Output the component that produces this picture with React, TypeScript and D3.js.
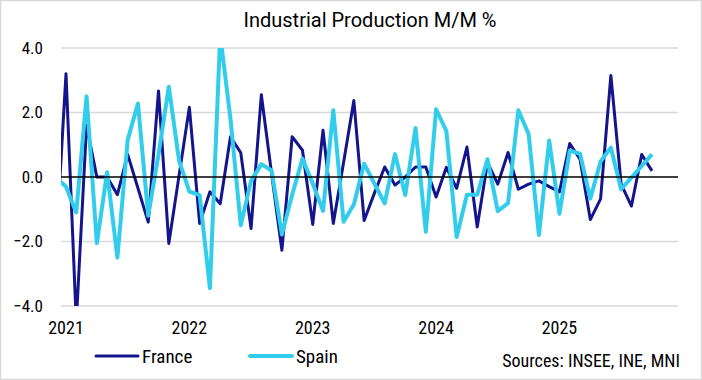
import React from 'react';
import * as d3 from 'd3';

// Monthly % change, Dec 2020 (clipped at left edge) to Oct 2025
const firstYear = 2020;
const firstMonth = 12;
const france = [
  -2.3,
  3.2, -4.5, 1.6, 0.0, 0.0, -0.55, 0.7, -0.35, -1.4, 2.67, -2.06, 0.05,
  2.16, -1.44, -0.46, -0.83, 1.25, 0.75, -1.6, 2.55, 0.1, -2.27, 1.25, 0.83,
  -1.47, 1.45, -1.44, 0.45, 2.37, -1.35, -0.5, 0.31, -0.25, 0.0, 0.31, 0.31,
  -0.62, 0.3, -0.35, 0.93, -1.55, 0.45, -0.22, 0.76, -0.38, -0.22, -0.12, -0.3,
  -0.46, 1.04, 0.55, -1.32, -0.68, 3.15, -0.22, -0.9, 0.7, 0.19,
];
const spain = [
  0.0,
  -0.3, -1.1, 2.5, -2.05, 0.15, -2.5, 1.15, 2.28, -1.2, 0.7, 2.8, 0.5,
  -0.45, -0.56, -3.45, 4.4, 1.8, -1.5, -0.12, 0.4, 0.2, -1.78, -0.55, 0.57,
  -0.2, -1.05, 2.07, -1.39, -0.85, 0.41, -0.2, -0.82, 0.71, -0.56, 1.52, -1.7,
  2.1, 1.42, -1.86, -0.55, -0.55, 0.55, -1.06, -0.81, 2.07, 1.33, -1.8, 1.13,
  -1.14, 0.82, 0.72, -0.67, 0.48, 0.91, -0.38, -0.02, 0.34, 0.7,
];
const yearLabels = ['2021', '2022', '2023', '2024', '2025'];
const yTicks = [-4, -2, 0, 2, 4];
const titleText = 'Industrial Production M/M %';
const sourceText = 'Sources: INSEE, INE, MNI';
const seriesNames = ['France', 'Spain'];

const COLORS = { France: '#14148c', Spain: '#33cdec' };
const NARROW = "'Roboto Condensed', 'Liberation Sans Narrow', 'DejaVu Sans Condensed', Roboto, sans-serif";
const REGULAR = "Roboto, 'Open Sans', sans-serif";

export default function App() {
  const W = 702;
  const H = 380;
  const left = 61, right = 678, top = 48, bottom = 306;

  const monthIdx = (k: number) => (firstYear * 12 + firstMonth - 1 + k) - 2021 * 12;
  const x = d3.scaleLinear().domain([-0.486, 59.53]).range([left, right]);
  const y = d3.scaleLinear().domain([-4, 4]).range([bottom, top]);

  const lineGen = d3
    .line<number>()
    .x((_, i) => x(monthIdx(i)))
    .y((d) => y(d));

  const yearX = (label: string) => x((+label - 2021) * 12);

  return (
    <div style={{ position: 'fixed', left: 0, top: 0 }}>
      <svg width={W} height={H} style={{ display: 'block', fontFamily: NARROW }}>
        <rect x={0.5} y={0.5} width={W - 1} height={H - 1} fill="#fff" stroke="#d9d9d9" strokeWidth={1.5} />
        <defs>
          <clipPath id="plotClip">
            <rect x={left} y={top} width={right - left} height={bottom - top} />
          </clipPath>
        </defs>
        <text x={370} y={27} textAnchor="middle" fontSize={20} fill="#000" fontFamily={REGULAR}>
          {titleText}
        </text>
        {yTicks.filter((t) => t !== 0).map((t) => (
          <line key={t} x1={left} x2={right} y1={y(t)} y2={y(t)} stroke="#d9d9d9" strokeWidth={1.5} />
        ))}
        {yTicks.map((t) => (
          <text key={'l' + t} x={43} y={y(t)} dy="0.35em" textAnchor="end" fontSize={17} fill="#000">
            {d3.format('.1f')(t)}
          </text>
        ))}
        <g clipPath="url(#plotClip)">
          <path d={lineGen(france) || ''} fill="none" stroke={COLORS.France} strokeWidth={3} strokeLinejoin="round" />
          <path d={lineGen(spain) || ''} fill="none" stroke={COLORS.Spain} strokeWidth={4} strokeLinejoin="round" />
        </g>
        <line x1={left} x2={right} y1={y(0)} y2={y(0)} stroke="#000" strokeWidth={1.5} />
        {yearLabels.map((l) => (
          <text key={l} x={yearX(l)} y={334} textAnchor="middle" fontSize={18} fill="#000">
            {l}
          </text>
        ))}
        {seriesNames.map((name, i) => {
          const lx = i === 0 ? 96 : 250;
          return (
            <g key={name}>
              <line x1={lx} x2={lx + 42} y1={356} y2={356} stroke={COLORS[name as 'France']} strokeWidth={name === 'France' ? 3 : 4} strokeLinecap="round" />
              <text x={lx + 46} y={356} dy="0.35em" fontSize={19} fill="#000">
                {name}
              </text>
            </g>
          );
        })}
        <text x={680} y={367} textAnchor="end" fontSize={18} fill="#000">
          {sourceText}
        </text>
      </svg>
    </div>
  );
}
